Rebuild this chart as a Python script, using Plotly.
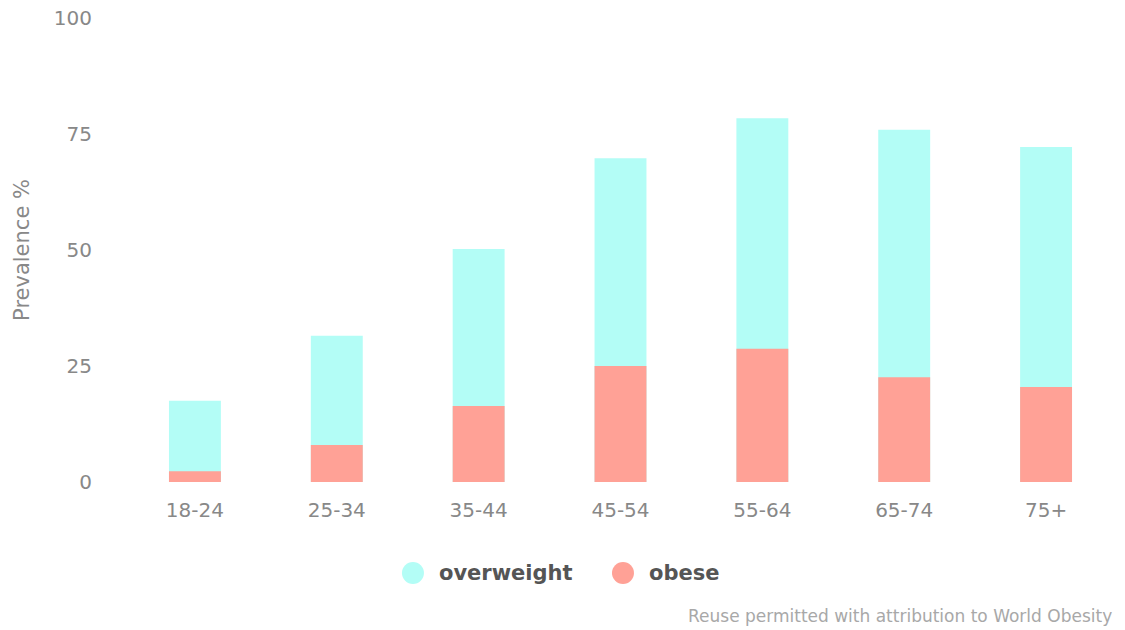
import plotly.graph_objects as go

# Prevalence by age group (%); "overweight" is the total overweight incl. obese
age_groups = ["18-24", "25-34", "35-44", "45-54", "55-64", "65-74", "75+"]
overweight = [17.5, 31.5, 50.2, 69.8, 78.4, 75.9, 72.2]
obese = [2.3, 8.0, 16.4, 25.0, 28.7, 22.6, 20.5]
y_ticks = [0, 25, 50, 75, 100]

series_names = ["overweight", "obese"]
colors = {"overweight": "#b3fdf6", "obese": "#ffa196"}

fig = go.Figure()
fig.add_trace(go.Bar(x=age_groups, y=overweight, name="overweight",
                     marker=dict(color=colors["overweight"], line=dict(width=0)),
                     width=0.366, showlegend=False))
fig.add_trace(go.Bar(x=age_groups, y=obese, name="obese",
                     marker=dict(color=colors["obese"], line=dict(width=0)),
                     width=0.366, showlegend=False))

# Legend drawn below the plot: circle swatches plus bold labels
legend_y = -0.196
swatch_x = [0.291, 0.5025]
label_x = [0.3152, 0.5267]
for name, sx, lx in zip(series_names, swatch_x, label_x):
    fig.add_shape(type="circle", xref="paper", yref="paper",
                  xsizemode="pixel", ysizemode="pixel",
                  xanchor=sx, yanchor=legend_y,
                  x0=-11, x1=11, y0=-11, y1=11,
                  fillcolor=colors[name], line=dict(width=0))
    fig.add_annotation(x=lx, y=legend_y, xref="paper", yref="paper",
                       text=f"<b>{name}</b>", showarrow=False,
                       xanchor="left", yanchor="middle",
                       font=dict(size=21, color="#555555", family="DejaVu Sans"))

fig.add_annotation(x=0.997, y=-0.2888, xref="paper", yref="paper",
                   text="Reuse permitted with attribution to World Obesity",
                   showarrow=False, xanchor="right", yanchor="middle",
                   font=dict(size=17, color="#a8a8a8", family="DejaVu Sans"))

fig.update_layout(
    width=1125, height=630,
    margin=dict(l=124, r=8, t=18, b=148),
    paper_bgcolor="white", plot_bgcolor="white",
    barmode="overlay",
    font=dict(family="DejaVu Sans", color="#888888", size=19),
    xaxis=dict(showgrid=False, zeroline=False, showline=False, ticks="",
               automargin=False,
               ticklabelstandoff=14, tickfont=dict(size=20, color="#888888"),
               range=[-0.5, 6.5]),
    yaxis=dict(range=[0, 100], tickvals=y_ticks, showgrid=False, zeroline=False,
               showline=False, ticks="", ticklabelstandoff=31, automargin=False,
               tickfont=dict(size=20, color="#888888"),
               title=dict(text="Prevalence %", standoff=18,
                          font=dict(size=21, color="#888888"))),
)

fig.write_html("out.html")
